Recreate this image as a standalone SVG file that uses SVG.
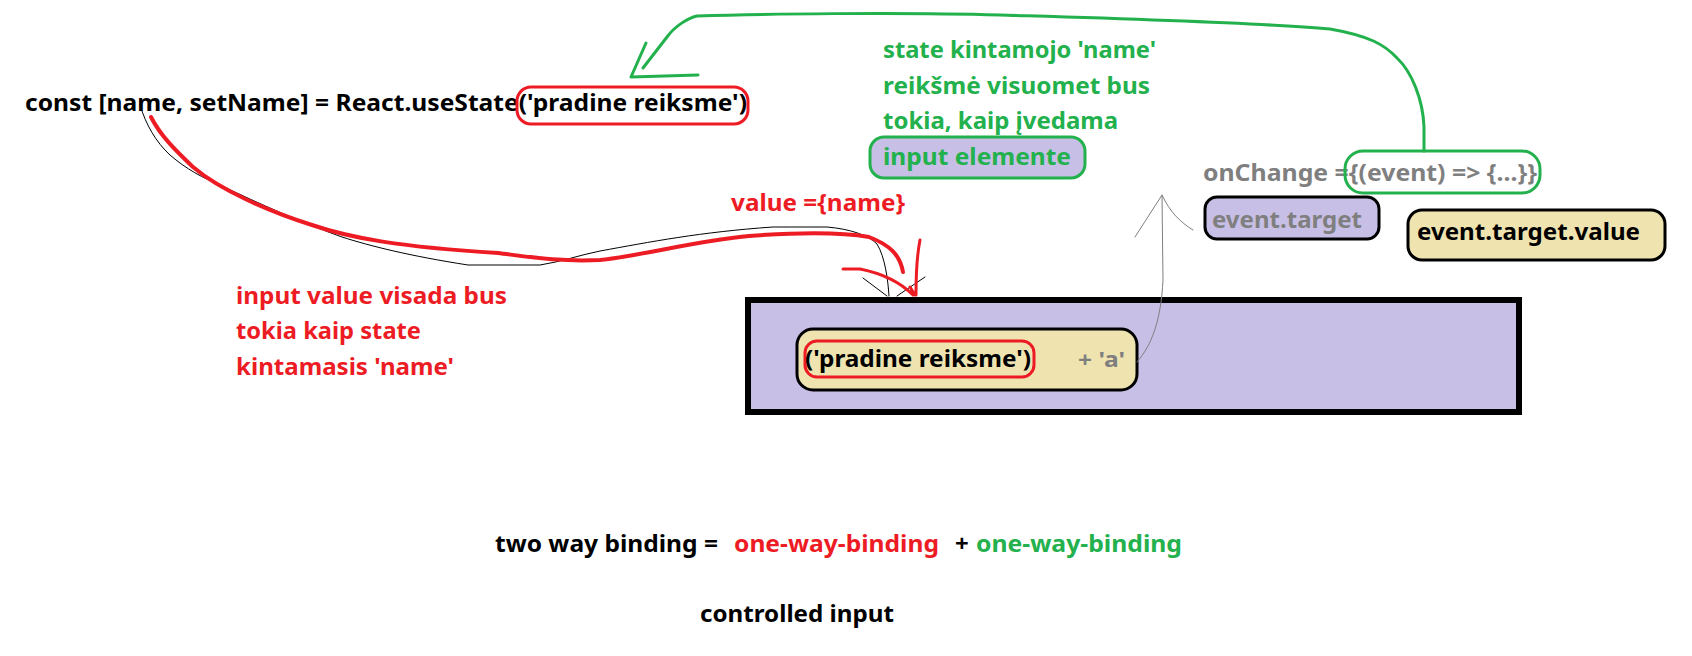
<svg xmlns="http://www.w3.org/2000/svg" width="1692" height="656" viewBox="0 0 1692 656">
<style>
text{font-family:"Noto Sans","Open Sans","Liberation Sans",sans-serif;font-weight:700;font-size:24px}
.k{fill:#000}.r{fill:#ed1c24}.g{fill:#22b14c}.gy{fill:#7f7f7f}
.lav{fill:#c8bfe7}.kh{fill:#efe4b0}
.sr{fill:none;stroke:#ed1c24;stroke-width:3}
.sg{fill:none;stroke:#22b14c;stroke-width:3}
.sk{stroke:#000;stroke-width:3}
.c{fill:none;stroke-linecap:round;stroke-linejoin:round}
</style>
<rect width="1692" height="656" fill="#fff"/>
<g id="useState">
<text class="k" x="25" y="111" textLength="722" lengthAdjust="spacingAndGlyphs">const [name, setName] = React.useState('pradine reiksme')</text>
<rect class="sr" x="517" y="87" width="231" height="37" rx="14"/>
</g>
<g id="greenNote">
<rect class="lav" x="870" y="137" width="215" height="41" rx="14" stroke="#22b14c" stroke-width="3"/>
<text class="g" x="883" y="58" textLength="273" lengthAdjust="spacingAndGlyphs">state kintamojo 'name'</text>
<text class="g" x="883" y="94" textLength="267" lengthAdjust="spacingAndGlyphs">reikšmė visuomet bus</text>
<text class="g" x="883" y="129" textLength="235" lengthAdjust="spacingAndGlyphs">tokia, kaip įvedama</text>
<text class="g" x="883" y="165" textLength="188" lengthAdjust="spacingAndGlyphs">input elemente</text>
</g>
<g id="onChange">
<text class="gy" x="1203" y="181" textLength="334" lengthAdjust="spacingAndGlyphs">onChange ={(event) =&gt; {...}}</text>
<rect class="sg" x="1345" y="151" width="195" height="42" rx="18"/>
</g>
<g id="eventTarget">
<rect class="lav sk" x="1205" y="197" width="174" height="42" rx="12"/>
<text class="gy" x="1212" y="228" textLength="150" lengthAdjust="spacingAndGlyphs">event.target</text>
</g>
<g id="eventTargetValue">
<rect class="kh sk" x="1408" y="210" width="257" height="50" rx="14"/>
<text class="k" x="1417" y="240" textLength="223" lengthAdjust="spacingAndGlyphs">event.target.value</text>
</g>
<g id="valueLabel">
<text class="r" x="731" y="211" textLength="174" lengthAdjust="spacingAndGlyphs">value ={name}</text>
</g>
<g id="inputBox">
<rect class="lav" x="748" y="300" width="771" height="112" stroke="#000" stroke-width="6"/>
<rect class="kh sk" x="797" y="329" width="340" height="61" rx="16"/>
<rect class="sr" x="805" y="341" width="229" height="36" rx="12"/>
<text class="k" x="805" y="367" textLength="226" lengthAdjust="spacingAndGlyphs">('pradine reiksme')</text>
<text class="gy" x="1078" y="367" textLength="47" lengthAdjust="spacingAndGlyphs" style="font-size:22px">+ 'a'</text>
</g>
<g id="redNote">
<text class="r" x="236" y="304" textLength="271" lengthAdjust="spacingAndGlyphs">input value visada bus</text>
<text class="r" x="236" y="339" textLength="185" lengthAdjust="spacingAndGlyphs">tokia kaip state</text>
<text class="r" x="236" y="375" textLength="218" lengthAdjust="spacingAndGlyphs">kintamasis 'name'</text>
</g>
<g id="summary">
<text class="k" x="495" y="552" textLength="223" lengthAdjust="spacingAndGlyphs">two way binding =</text>
<text class="r" x="734" y="552" textLength="205" lengthAdjust="spacingAndGlyphs">one-way-binding</text>
<text class="k" x="955" y="552">+</text>
<text class="g" x="976" y="552" textLength="206" lengthAdjust="spacingAndGlyphs">one-way-binding</text>
<text class="k" x="700" y="622" textLength="194" lengthAdjust="spacingAndGlyphs">controlled input</text>
</g>
<g id="connectors" class="c">
<path d="M140,105 C146,125 156,142 170,155 C186,169 203,178 222,186 C260,204 300,222 342,237 C370,246 410,256 468,265 L540,265 C560,262 580,255 600,251 C650,242 700,232 773,227 L827,227 C850,229 868,235 877,244 C885,257 888,280 889,296" stroke="#000" stroke-width="1"/>
<path d="M863,278 L887,296 M925,277 L897,296" stroke="#000" stroke-width="1"/>
<path d="M151,117 C160,135 175,150 193,167 C220,190 270,212 312,225 C350,238 400,247 498,253 C530,257 560,262 600,260 C640,256 700,240 749,236 C790,233 840,232 869,237 C890,245 900,255 903,272" stroke="#ed1c24" stroke-width="4"/>
<path d="M843,269 L860,269 C880,273 900,282 913,295 M920,240 C917,255 916,275 916,295 M910,287 L915,295" stroke="#ed1c24" stroke-width="3"/>
<path d="M1424,151 L1424,127 C1423,100 1412,72 1397,58 C1385,45 1370,36 1330,29 C1250,22 1100,18 1000,15 C900,12 760,14 697,16 C688,18 675,26 667,37 L643,68 M646,43 L631,77 L698,75" stroke="#22b14c" stroke-width="3"/>
<path d="M1137,362 C1152,345 1161,320 1163,280 L1162,195 M1135,237 L1162,195 C1170,212 1180,222 1193,230" stroke="#7f7f7f" stroke-width="1"/>
</g>
</svg>
